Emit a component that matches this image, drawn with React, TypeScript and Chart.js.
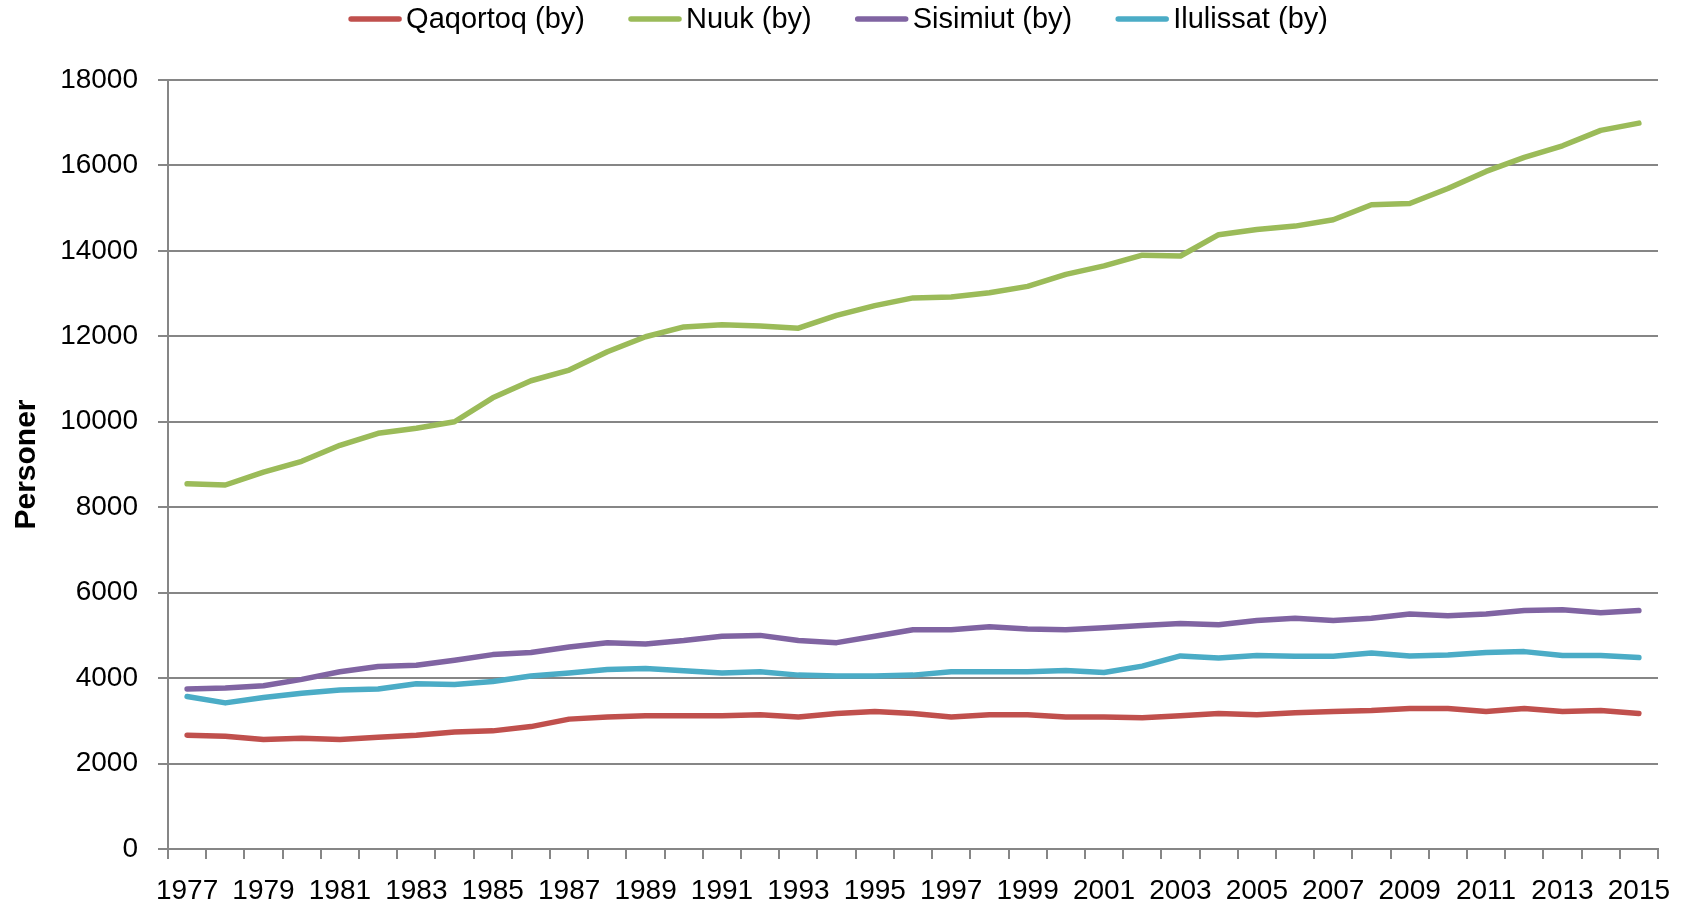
import React, { useEffect, useRef } from "react";
import { Chart, registerables } from "chart.js";

Chart.register(...registerables);

const years: string[] = [
  "1977","1978","1979","1980","1981","1982","1983","1984","1985","1986",
  "1987","1988","1989","1990","1991","1992","1993","1994","1995","1996",
  "1997","1998","1999","2000","2001","2002","2003","2004","2005","2006",
  "2007","2008","2009","2010","2011","2012","2013","2014","2015",
];

const qaqortoq: number[] = [
  2665, 2640, 2565, 2590, 2565, 2615, 2665, 2740, 2765, 2865,
  3040, 3090, 3120, 3120, 3120, 3140, 3090, 3170, 3220, 3170,
  3090, 3140, 3140, 3090, 3090, 3070, 3120, 3170, 3140, 3190,
  3220, 3240, 3290, 3290, 3220, 3290, 3220, 3240, 3170,
];

const nuuk: number[] = [
  8550, 8520, 8820, 9075, 9450, 9730, 9850, 10000, 10560, 10960,
  11210, 11640, 11990, 12220, 12270, 12240, 12190, 12490, 12720, 12900,
  12920, 13020, 13170, 13450, 13650, 13900, 13880, 14380, 14500, 14580,
  14730, 15080, 15110, 15460, 15860, 16190, 16460, 16820, 16990,
];

const sisimiut: number[] = [
  3745, 3770, 3820, 3970, 4150, 4270, 4300, 4420, 4550, 4600,
  4730, 4830, 4800, 4880, 4980, 5000, 4880, 4830, 4980, 5130,
  5130, 5200, 5150, 5130, 5180, 5230, 5280, 5250, 5350, 5400,
  5350, 5400, 5500, 5460, 5500, 5580, 5600, 5530, 5580,
];

const ilulissat: number[] = [
  3570, 3420, 3545, 3645, 3720, 3745, 3870, 3850, 3920, 4050,
  4120, 4200, 4225, 4170, 4120, 4150, 4070, 4050, 4050, 4070,
  4150, 4150, 4150, 4180, 4130, 4280, 4520, 4470, 4530, 4510,
  4510, 4590, 4520, 4540, 4600, 4620, 4530, 4530, 4480,
];

const seriesNames: string[] = ["Qaqortoq (by)", "Nuuk (by)", "Sisimiut (by)", "Ilulissat (by)"];
const seriesColors: string[] = ["#C0504D", "#9BBB59", "#8064A2", "#4BACC6"];

const yTitle = "Personer";
const FONT = "'Liberation Sans', Arial, sans-serif";
const GRID = "#868686";

const legendPlugin = {
  id: "excelLegend",
  afterDraw(chart: any) {
    const ctx = chart.ctx as CanvasRenderingContext2D;
    const size = 29;
    const lineW = 54;
    const gap = 4;
    const spacing = 43;
    ctx.save();
    ctx.font = `${size}px ${FONT}`;
    const ds = chart.data.datasets;
    const widths = ds.map((d: any) => lineW + gap + ctx.measureText(d.label).width);
    const total = widths.reduce((a: number, b: number) => a + b, 0) + spacing * (ds.length - 1);
    let x = chart.width / 2 - total / 2 - 5;
    const y = 19;
    ds.forEach((d: any, i: number) => {
      ctx.strokeStyle = d.borderColor;
      ctx.lineWidth = 5.5;
      ctx.lineCap = "round";
      ctx.beginPath();
      ctx.moveTo(x + 3, y);
      ctx.lineTo(x + lineW - 3, y);
      ctx.stroke();
      ctx.fillStyle = "#000";
      ctx.textBaseline = "middle";
      ctx.textAlign = "left";
      ctx.fillText(d.label, x + lineW + gap, y + 1);
      x += widths[i] + spacing;
    });
    ctx.restore();
  },
};

export default function App() {
  const ref = useRef<HTMLCanvasElement | null>(null);

  useEffect(() => {
    if (!ref.current) return;
    Chart.defaults.font.family = FONT;
    Chart.defaults.color = "#000";
    const allSeries = [qaqortoq, nuuk, sisimiut, ilulissat];
    const chart = new Chart(ref.current, {
      type: "line",
      data: {
        labels: years,
        datasets: allSeries.map((s, i) => ({
          label: seriesNames[i],
          data: s,
          borderColor: seriesColors[i],
          backgroundColor: seriesColors[i],
          borderWidth: 5.5,
          pointRadius: 0,
          tension: 0,
          borderCapStyle: "round" as const,
          borderJoinStyle: "round" as const,
          fill: false,
        })),
      },
      plugins: [legendPlugin],
      options: {
        animation: false,
        responsive: false,
        maintainAspectRatio: false,
        layout: { padding: { top: 80, right: 28, bottom: 0, left: 0 } },
        plugins: {
          legend: { display: false },
          tooltip: { enabled: false },
          title: { display: false },
        },
        scales: {
          x: {
            type: "category",
            offset: true,
            grid: {
              offset: true,
              drawOnChartArea: false,
              drawTicks: true,
              tickLength: 10,
              color: GRID,
              lineWidth: 2,
            },
            border: { display: true, color: GRID, width: 2 },
            ticks: {
              autoSkip: false,
              maxRotation: 0,
              minRotation: 0,
              padding: 15,
              font: { size: 28 },
              color: "#000",
              callback: (_v: any, idx: number) => (idx % 2 === 0 ? years[idx] : ""),
            },
            afterFit: (scale: any) => {
              scale.height = 57;
            },
          },
          y: {
            min: 0,
            max: 18000,
            ticks: {
              stepSize: 2000,
              padding: 20,
              font: { size: 28 },
              color: "#000",
              callback: (v: any) => String(v),
            },
            grid: {
              color: GRID,
              lineWidth: 2,
              tickLength: 10,
            },
            border: { display: true, color: GRID, width: 2 },
            title: {
              display: true,
              text: yTitle,
              font: { size: 30, weight: "bold" },
              color: "#000",
              padding: { top: 9, bottom: 0 },
            },
            afterFit: (scale: any) => {
              scale.width = 168;
            },
          },
        },
      },
    });
    return () => chart.destroy();
  }, []);

  return (
    <div style={{ position: "fixed", left: 0, top: 0, width: 1686, height: 906, background: "#fff" }}>
      <canvas ref={ref} width={1686} height={906} style={{ width: 1686, height: 906, display: "block" }} />
    </div>
  );
}
